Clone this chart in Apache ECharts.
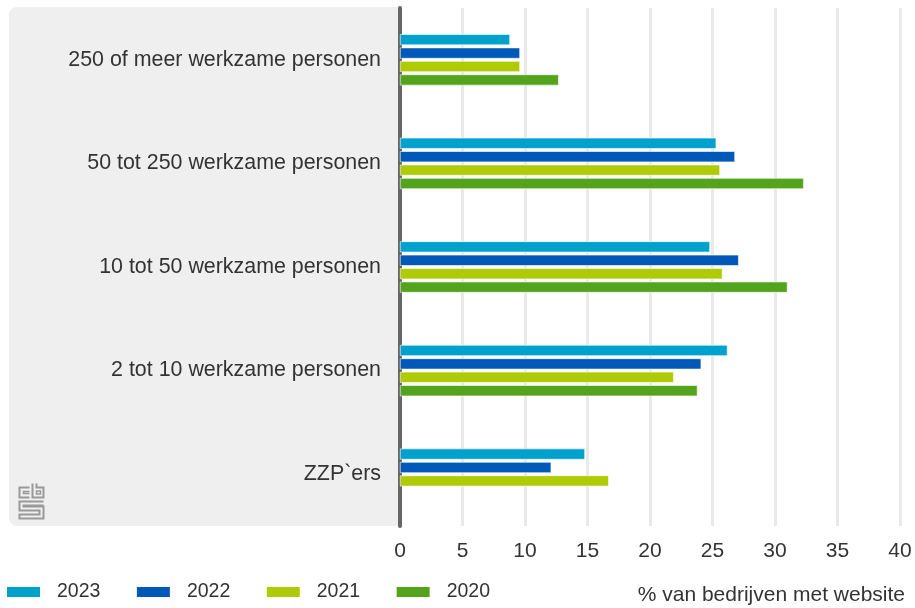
<!DOCTYPE html>
<html>
<head>
<meta charset="utf-8">
<script src="https://cdn.jsdelivr.net/npm/echarts@6/dist/echarts.min.js"></script>
<style>
  html, body { margin: 0; padding: 0; background: #fff; }
  #main { width: 915px; height: 608px; }
</style>
</head>
<body>
<div id="main"></div>
<script>
// categories, top to bottom
var categories = [
  '250 of meer werkzame personen',
  '50 tot 250 werkzame personen',
  '10 tot 50 werkzame personen',
  '2 tot 10 werkzame personen',
  'ZZP`ers'
];
var years = ['2023', '2022', '2021', '2020'];
var values2023 = [8.8, 25.3, 24.8, 26.2, 14.8];
var values2022 = [9.6, 26.8, 27.1, 24.1, 12.1];
var values2021 = [9.6, 25.6, 25.8, 21.9, 16.7];
var values2020 = [12.7, 32.3, 31.0, 23.8, null];
var xTicks = [0, 5, 10, 15, 20, 25, 30, 35, 40];

var colors = ['#00a1cd', '#0058b8', '#afcb05', '#53a31d'];
var font = 'Arial, "Liberation Sans", sans-serif';

var chart = echarts.init(document.getElementById('main'), null, { renderer: 'canvas' });

function bar(name, data, color) {
  return {
    name: name,
    type: 'bar',
    data: data,
    barWidth: 11,
    barGap: '22%',
    itemStyle: { color: color, borderColor: '#fff', borderWidth: 0.6 },
    emphasis: { disabled: true }
  };
}

var option = {
  animation: false,
  color: colors,
  textStyle: { fontFamily: font },
  grid: { left: 400, right: 15, top: 8, bottom: 82, containLabel: false },
  legend: {
    data: years,
    left: 0,
    top: 577,
    itemWidth: 35,
    itemHeight: 12,
    itemGap: 34.5,
    icon: 'rect',
    textStyle: { fontSize: 19.5, color: '#333', fontFamily: font, padding: [0, 0, 0, 11] }
  },
  graphic: [
    {
      type: 'rect',
      z: -10,
      silent: true,
      shape: { x: 9, y: 7, width: 392, height: 519, r: [8, 0, 0, 8] },
      style: { fill: '#efefef' }
    },
    {
      type: 'text',
      right: 10,
      top: 585,
      style: { text: '% van bedrijven met website', fill: '#333', font: '21px ' + font }
    },
    // cbs logo
    {
      type: 'group',
      left: 17,
      top: 481,
      children: [
        { type: 'polyline', shape: { points: [[11, 4], [1, 4], [1, 14], [11, 14]] }, style: { stroke: '#999', lineWidth: 2, fill: null } },
        { type: 'polyline', shape: { points: [[11, 8], [5, 8], [5, 10], [11, 10]] }, style: { stroke: '#999', lineWidth: 1.5, fill: null } },
        { type: 'polyline', shape: { points: [[14, 0], [14, 14], [25, 14], [25, 4], [18, 4], [18, 0]] }, style: { stroke: '#999', lineWidth: 2, fill: null } },
        { type: 'rect', shape: { x: 18, y: 7.5, width: 4, height: 3 }, style: { stroke: '#999', lineWidth: 1.5, fill: null } },
        { type: 'polyline', shape: { points: [[25, 18], [1, 18], [1, 27], [21, 27], [21, 31], [1, 31], [1, 35], [25, 35], [25, 23], [5, 23], [5, 22], [25, 22]] }, style: { stroke: '#999', lineWidth: 2, fill: null } }
      ]
    }
  ],
  xAxis: {
    type: 'value',
    min: 0,
    max: 40,
    interval: 5,
    axisLine: { show: false },
    axisTick: { show: false },
    axisLabel: {
      fontSize: 21,
      color: '#333',
      margin: 15,
      fontFamily: font,
      formatter: function (v) { return xTicks.indexOf(v) >= 0 ? String(v) : ''; }
    },
    splitLine: { show: true, lineStyle: { color: '#e9e9e9', width: 3 } }
  },
  yAxis: {
    type: 'category',
    data: categories,
    inverse: true,
    axisLine: { show: true, lineStyle: { color: '#666', width: 4 } },
    axisTick: { show: false },
    axisLabel: { fontSize: 21.4, color: '#333', margin: 19, fontFamily: font }
  },
  series: [
    bar(years[0], values2023, colors[0]),
    bar(years[1], values2022, colors[1]),
    bar(years[2], values2021, colors[2]),
    bar(years[3], values2020, colors[3])
  ]
};

chart.setOption(option);
</script>
</body>
</html>
